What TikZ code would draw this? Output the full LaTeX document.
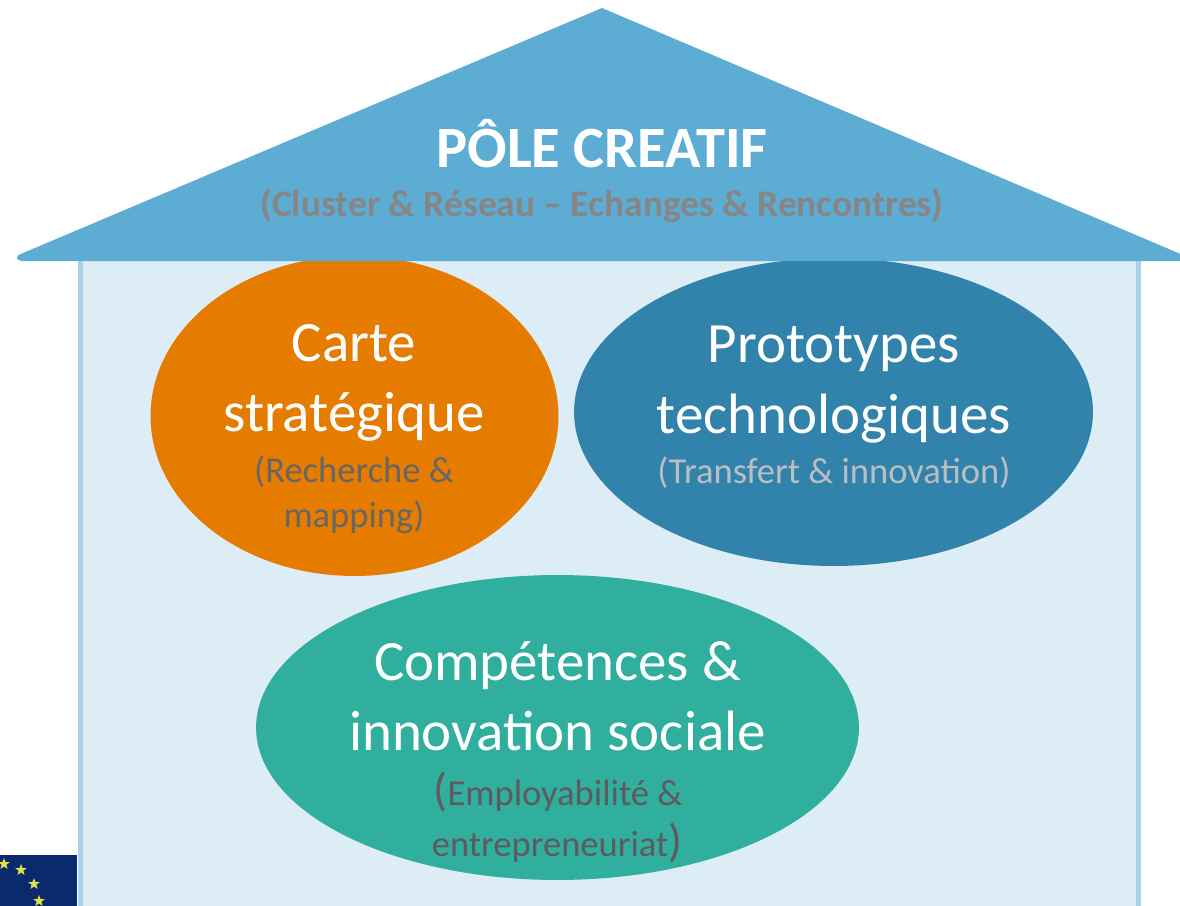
\documentclass[tikz,border=0pt]{standalone}
\usepackage{fontspec}
\setmainfont{Carlito}
\usetikzlibrary{shapes.geometric}
\definecolor{roofblue}{HTML}{5CACD3}
\definecolor{wallfill}{HTML}{DDEDF5}
\definecolor{wallline}{HTML}{A8D3E8}
\definecolor{cartefill}{HTML}{E57C00}
\definecolor{protofill}{HTML}{3183AC}
\definecolor{compfill}{HTML}{30AE9E}
\definecolor{flagblue}{HTML}{0B2A6E}
\definecolor{flagstar}{HTML}{DDE24A}
\definecolor{subgrey}{HTML}{666666}
\definecolor{subpale}{HTML}{BABEC0}
\definecolor{subdark}{HTML}{5E5A5E}
\newcommand{\parenbig}[1]{{\fontsize{26}{26}\selectfont #1}}
\tikzset{
	blob/.style={ellipse,inner sep=0pt,draw=none},
	big/.style={anchor=base,text=white,font=\fontsize{32.4}{32.4}\selectfont},
	small/.style={anchor=base,font=\fontsize{20.8}{20.8}\selectfont},
	flagdot/.style={star,star points=5,star point ratio=2.4,inner sep=0pt,minimum size=0.24cm,fill=flagstar,draw=none}
}
\begin{document}
\begin{tikzpicture}[x=0.02cm,y=-0.02cm]
	\useasboundingbox (0,0) rectangle (1180,906);
	\draw[line width=0.1cm,draw=wallline,fill=wallfill] (80.5,250) rectangle (1138.5,912);
	\fill[flagblue] (0,855) rectangle (77,906);
	\foreach \sx/\sy in {4/864, 21/870, 34/884, 39/901}
		\node[flagdot] at (\sx,\sy) {};
	\node[blob,fill=cartefill,minimum width=8.16cm,minimum height=6.4cm] (carte) at (354.5,416) {};
	\node[blob,fill=protofill,minimum width=10.38cm,minimum height=6.16cm] (proto) at (833.5,412) {};
	\node[blob,fill=compfill,minimum width=12.06cm,minimum height=6.1cm] (comp) at (557.5,727.5) {};
	\fill[roofblue] (602,8) -- (1197,261) [rounded corners=2pt] -- (18,261) -- (16,256) [sharp corners] -- cycle;
	\node[anchor=base,text=white,font=\bfseries\fontsize{33.3}{33.3}\selectfont] (pole) at (602,167) {PÔLE CREATIF};
	\node[anchor=base,text=gray!95,font=\bfseries\fontsize{21.3}{21.3}\selectfont] (polesub) at (602,216) {(Cluster \& Réseau – Echanges \& Rencontres)};
	\node[big] (cartea) at (354,361) {Carte};
	\node[big] (carteb) at (354,431) {stratégique};
	\node[small,text=subgrey] (cartec) at (354,482) {(Recherche \&};
	\node[small,text=subgrey] (carted) at (354,527) {mapping)};
	\node[big] (protoa) at (834,362) {Prototypes};
	\node[big] (protob) at (834,433) {technologiques};
	\node[small,text=subpale] (protoc) at (834,483) {(Transfert \& innovation)};
	\node[big] (compa) at (557.5,680) {Compétences \&};
	\node[big] (compb) at (557.5,750) {innovation sociale};
	\node[small,text=subdark] (compc) at (558,805) {\parenbig{(}Employabilité \&};
	\node[small,text=subdark] (compd) at (557,856) {entrepreneuriat\parenbig{)}};
\end{tikzpicture}
\end{document}
